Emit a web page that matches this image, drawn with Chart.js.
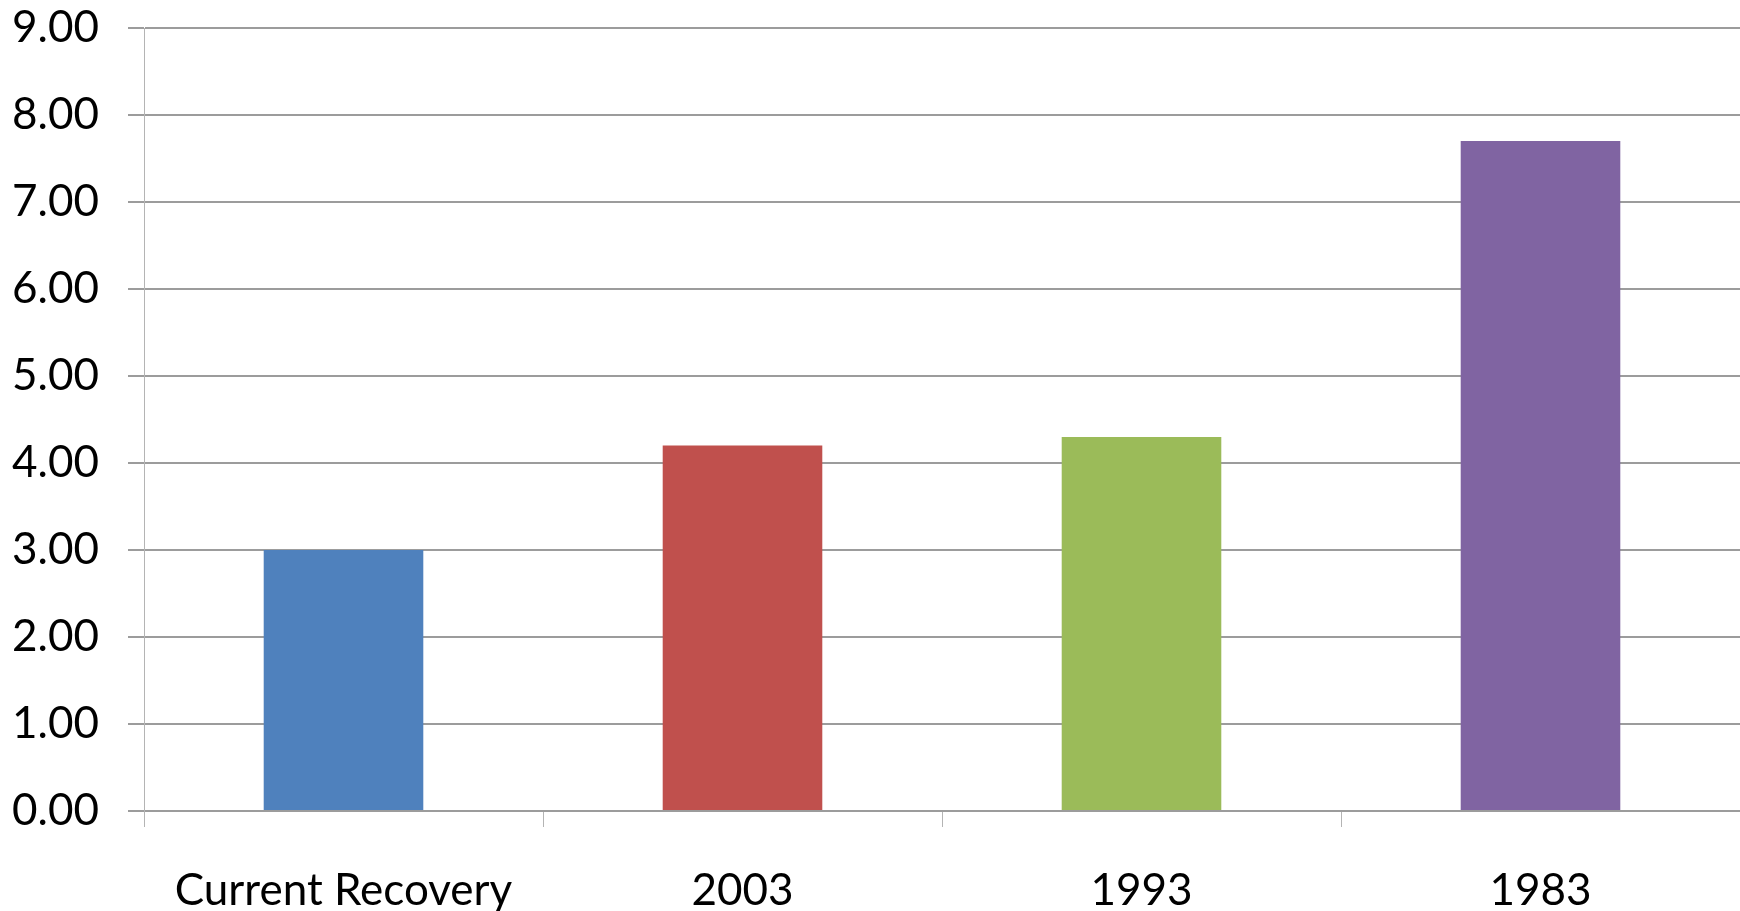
<!DOCTYPE HTML>
<html>

<head>
    <meta charset="utf-8">
    <title>recovery bars</title>
    <script src="https://cdn.jsdelivr.net/npm/chart.js"></script>
    <style>
        html, body { margin: 0; padding: 0; background: #fff; overflow: hidden; }
        #wrap { width: 1740px; height: 911px; }
    </style>
</head>

<body>
    <div id="wrap"><canvas id="chart_bars"></canvas></div>
    <script>
        const categories = ["Current Recovery", "2003", "1993", "1983"];
        const values = [3.00, 4.20, 4.30, 7.70];
        const barColors = ["#4F81BD", "#C0504D", "#9BBB59", "#8064A2"];
        const yTicks = [0, 1, 2, 3, 4, 5, 6, 7, 8, 9];

        const gridGray = "#9c9c9c";
        const labelFont = { family: "Lato", size: 44 };

        new Chart(document.getElementById("chart_bars").getContext('2d'), {
          type: 'bar',
          data: {
            labels: categories,
            datasets: [{
              data: values,
              backgroundColor: barColors,
              borderWidth: 0,
              categoryPercentage: 1.0,
              barPercentage: 0.4,
            }]
          },
          options: {
            responsive: true,
            maintainAspectRatio: false,
            animation: false,
            layout: {
              autoPadding: false,
              padding: { top: 28, right: 0, bottom: 0, left: 0 }
            },
            plugins: {
              legend: { display: false },
              tooltip: { enabled: false },
            },
            scales: {
              x: {
                grid: {
                  drawOnChartArea: false,
                  drawTicks: true,
                  tickLength: 16,
                  color: "#b4b4b4",
                  lineWidth: 1,
                },
                border: { display: false },
                ticks: {
                  color: "#000",
                  font: labelFont,
                  padding: 37,
                  maxRotation: 0,
                },
                afterFit: (scale) => {
                  scale.height = 100;
                  scale.paddingLeft = 0;
                  scale.paddingRight = 0;
                },
              },
              y: {
                min: yTicks[0],
                max: yTicks[yTicks.length - 1],
                grid: {
                  color: gridGray,
                  lineWidth: 2,
                  tickLength: 16,
                },
                border: { color: "#b4b4b4", width: 1 },
                ticks: {
                  stepSize: 1,
                  color: "#000",
                  font: labelFont,
                  padding: 29,
                  callback: (v) => Number(v).toFixed(2),
                },
                // keep the plot top pinned to the layout padding
                afterFit: (scale) => {
                  scale.width = 144;
                  scale.paddingTop = 0;
                  scale.paddingBottom = 0;
                },
              }
            }
          },
        });
    </script>
</body>
</html>
